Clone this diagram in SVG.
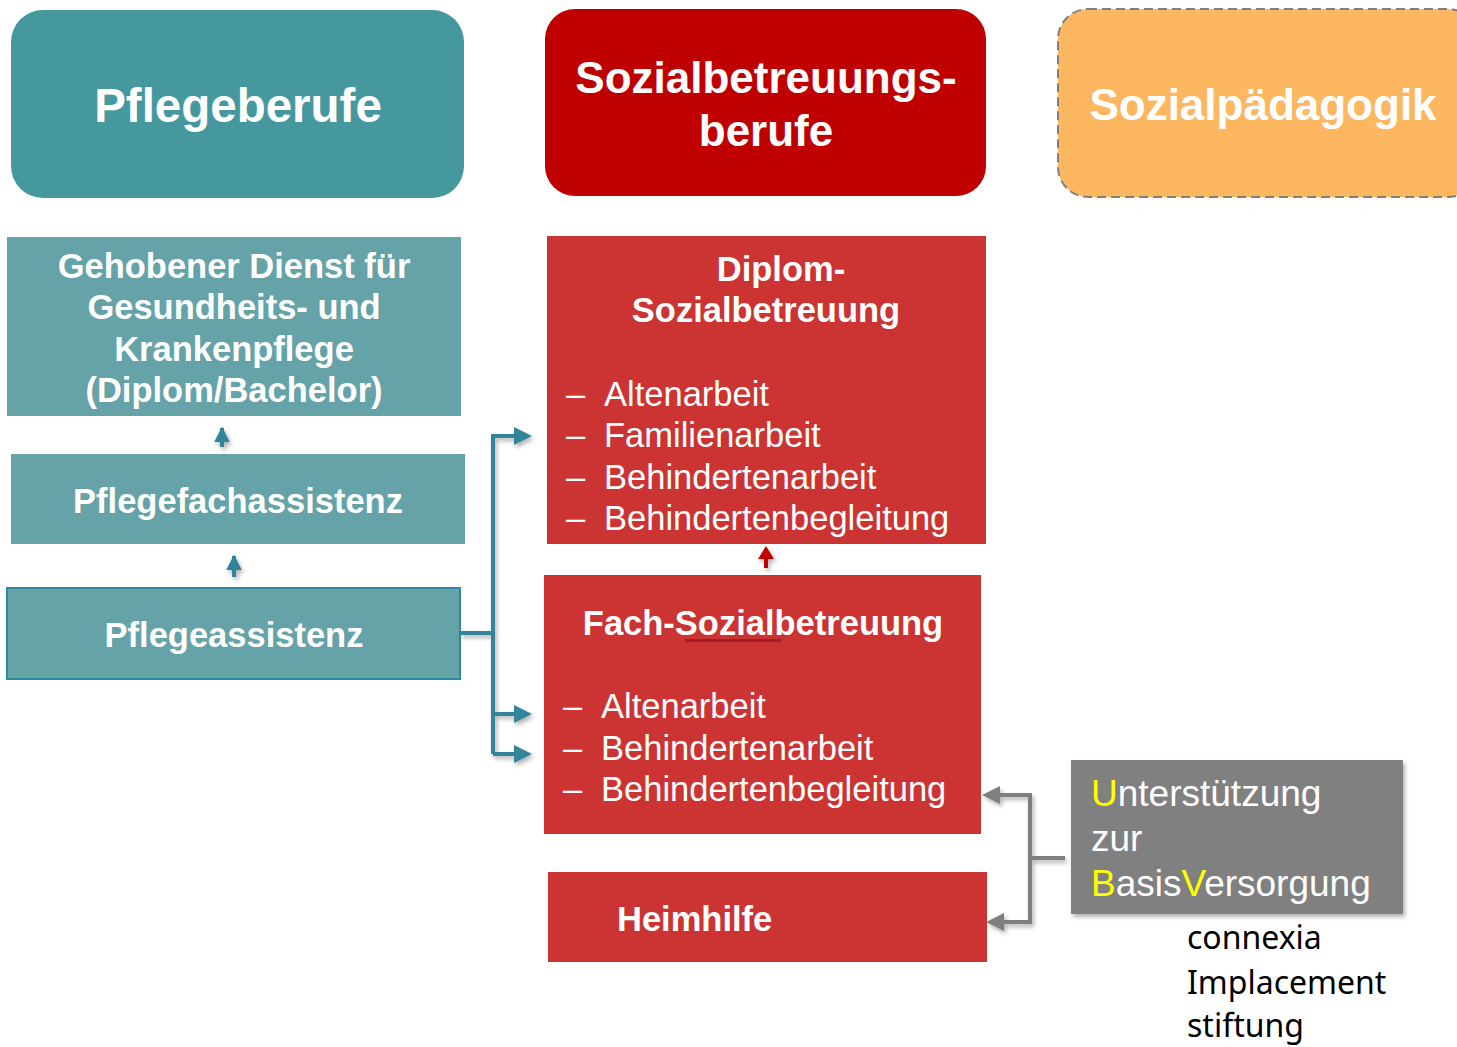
<svg xmlns="http://www.w3.org/2000/svg" width="1457" height="1047" viewBox="0 0 1457 1047">
<style>
.hb{font-family:"Liberation Sans",Arial,sans-serif;font-weight:bold;fill:#fff}
.n{font-family:"Liberation Sans",Arial,sans-serif;fill:#fff}
.teal{fill:#65A3A8}
.red{fill:#CC3333}
.blue{fill:none;stroke:#31849B;stroke-width:4}
.gray{fill:none;stroke:#7F7F7F;stroke-width:4}
</style>
<defs>
<filter id="sh" x="-20%" y="-20%" width="140%" height="140%">
<feDropShadow dx="2" dy="3" stdDeviation="2" flood-color="#000" flood-opacity="0.3"/>
</filter>
<marker id="ab" viewBox="0 0 10 10" refX="9" refY="5" markerWidth="4" markerHeight="4" orient="auto" markerUnits="strokeWidth">
<path d="M0,0 L10,5 L0,10 z" fill="#31849B"/>
</marker>
</defs>
<rect width="1457" height="1047" fill="#fff"/>

<g id="pflegeberufe">
<rect x="11" y="10" width="453" height="188" rx="32" fill="#46989F"/>
<text class="hb" x="238" y="122" font-size="47.5" text-anchor="middle">Pflegeberufe</text>
</g>
<g id="sozialbetreuungsberufe">
<rect x="545" y="9" width="441" height="187" rx="30" fill="#C00000"/>
<text class="hb" x="766" y="93" font-size="44" text-anchor="middle">Sozialbetreuungs-</text>
<text class="hb" x="766" y="146" font-size="44" text-anchor="middle">berufe</text>
</g>
<g id="sozialpaedagogik">
<rect x="1058" y="9" width="420" height="188" rx="30" fill="#FDB760" stroke="#7F7F7F" stroke-width="2" stroke-dasharray="9,5"/>
<text class="hb" x="1263" y="120" font-size="44" text-anchor="middle">Sozialpädagogik</text>
</g>

<g id="gehobener">
<rect class="teal" x="7" y="237" width="454" height="179"/>
<text class="hb" x="234" y="278" font-size="34.5" text-anchor="middle">Gehobener Dienst für</text>
<text class="hb" x="234" y="319" font-size="34.5" text-anchor="middle">Gesundheits- und</text>
<text class="hb" x="234" y="361" font-size="34.5" text-anchor="middle">Krankenpflege</text>
<text class="hb" x="234" y="402" font-size="34.5" text-anchor="middle">(Diplom/Bachelor)</text>
</g>
<g id="pflegefachassistenz">
<rect class="teal" x="11" y="454" width="454" height="90"/>
<text class="hb" x="238" y="513" font-size="34.5" text-anchor="middle">Pflegefachassistenz</text>
</g>
<g id="pflegeassistenz">
<rect class="teal" x="7" y="588" width="453" height="91" stroke="#2E8AA0" stroke-width="2"/>
<text class="hb" x="234" y="647" font-size="34.5" text-anchor="middle">Pflegeassistenz</text>
</g>

<g id="diplom">
<rect class="red" x="547" y="236" width="439" height="308"/>
<text class="hb" x="781" y="281" font-size="34.5" text-anchor="middle">Diplom-</text>
<text class="hb" x="766" y="322" font-size="34.5" text-anchor="middle">Sozialbetreuung</text>
<text class="n" x="566" y="406" font-size="34.5">–</text><text class="n" x="604" y="406" font-size="34.5">Altenarbeit</text>
<text class="n" x="566" y="447" font-size="34.5">–</text><text class="n" x="604" y="447" font-size="34.5">Familienarbeit</text>
<text class="n" x="566" y="489" font-size="34.5">–</text><text class="n" x="604" y="489" font-size="34.5">Behindertenarbeit</text>
<text class="n" x="566" y="530" font-size="34.5">–</text><text class="n" x="604" y="530" font-size="34.5">Behindertenbegleitung</text>
</g>
<g id="fach">
<rect class="red" x="544" y="575" width="437" height="259"/>
<text class="hb" x="763" y="635" font-size="34.5" text-anchor="middle">Fach-Sozialbetreuung</text>
<rect x="685" y="639" width="96" height="3" fill="#A81E24"/>
<text class="n" x="563" y="718" font-size="34.5">–</text><text class="n" x="601" y="718" font-size="34.5">Altenarbeit</text>
<text class="n" x="563" y="760" font-size="34.5">–</text><text class="n" x="601" y="760" font-size="34.5">Behindertenarbeit</text>
<text class="n" x="563" y="801" font-size="34.5">–</text><text class="n" x="601" y="801" font-size="34.5">Behindertenbegleitung</text>
</g>
<g id="heimhilfe">
<rect class="red" x="548" y="872" width="439" height="90"/>
<text class="hb" x="617" y="931" font-size="34.5">Heimhilfe</text>
</g>
<g id="ubv">
<rect x="1071" y="760" width="332" height="154" fill="#808080" filter="url(#sh)"/>
<text class="n" x="1091" y="806" font-size="37"><tspan fill="#FFFF00">U</tspan>nterstützung</text>
<text class="n" x="1091" y="851" font-size="37">zur</text>
<text class="n" x="1091" y="896" font-size="37"><tspan fill="#FFFF00">B</tspan>asis<tspan fill="#FFFF00">V</tspan>ersorgung</text>
</g>
<g id="connexia">
<text x="1187" y="949" font-size="32" font-family="'Noto Sans',Lato,sans-serif" fill="#000">connexia</text>
<text x="1187" y="994" font-size="32" font-family="'Noto Sans',Lato,sans-serif" fill="#000">Implacement</text>
<text x="1187" y="1037" font-size="32" font-family="'Noto Sans',Lato,sans-serif" fill="#000">stiftung</text>
</g>

<g id="connectors" filter="url(#sh)">
<path class="blue" d="M222,447 V428" marker-end="url(#ab)"/>
<path class="blue" d="M234,577 V556" marker-end="url(#ab)"/>
<path d="M766,568 V555" fill="none" stroke="#C00000" stroke-width="4"/>
<path d="M766,546 L758,559 L774,559 z" fill="#C00000"/>
<path class="blue" d="M460,633 H493"/>
<path class="blue" d="M493,754 V436 H516"/>
<path d="M532,436 L514,427 L514,445 z" fill="#31849B"/>
<path class="blue" d="M493,714 H516"/>
<path d="M532,714 L514,705 L514,723 z" fill="#31849B"/>
<path class="blue" d="M493,754 H516"/>
<path d="M532,754 L514,745 L514,763 z" fill="#31849B"/>
<path class="gray" d="M1065,858 H1030"/>
<path class="gray" d="M998,795 H1030 V922 H1002"/>
<path d="M982,795 L1000,786 L1000,804 z" fill="#7F7F7F"/>
<path d="M986,922 L1004,913 L1004,931 z" fill="#7F7F7F"/>
</g>
</svg>
